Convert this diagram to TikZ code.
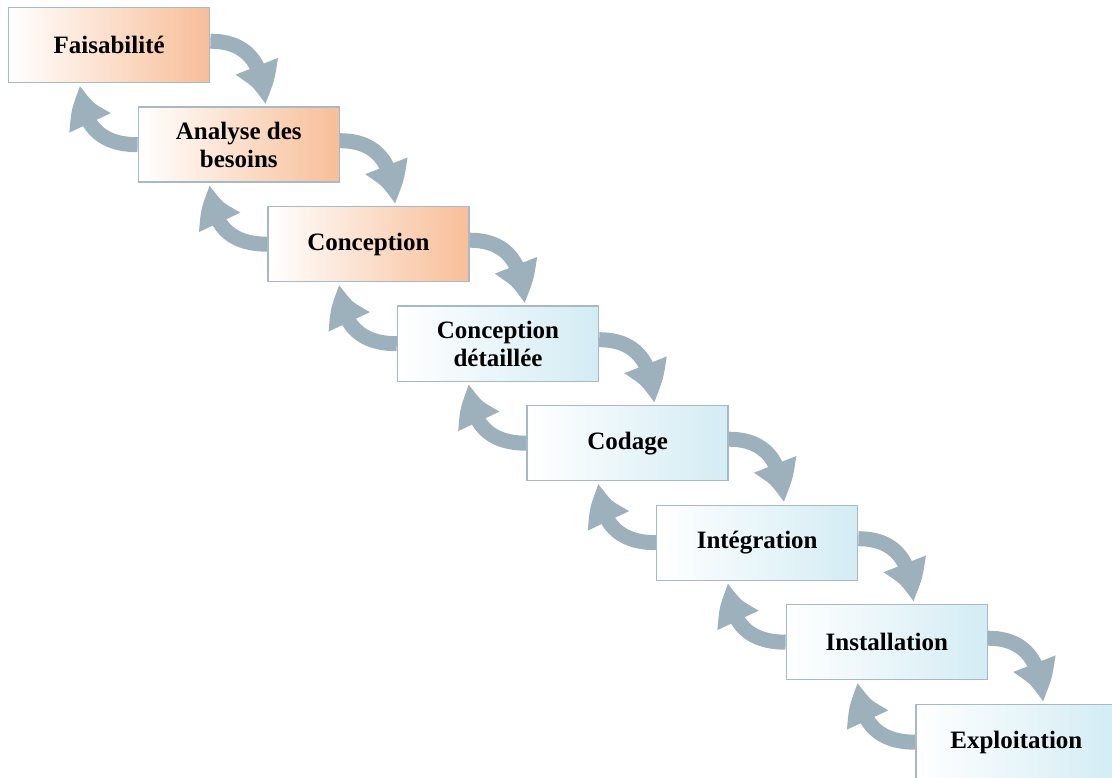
\documentclass[tikz,border=0pt]{standalone}
\usepackage{fontspec}
\setmainfont{Liberation Serif}
\usetikzlibrary{arrows.meta,bending,calc,backgrounds}
\definecolor{orangeR}{HTML}{F8BE98}
\definecolor{blueR}{HTML}{D3ECF4}
\definecolor{edgeC}{HTML}{A6B9C5}
\definecolor{arrowC}{HTML}{9DB1BC}
\begin{document}
\begin{tikzpicture}[x=1pt,y=-1pt,
  phase/.style={draw=edgeC, line width=1.4pt, minimum width=201pt, minimum height=75pt,
    anchor=north west, align=center, inner sep=0pt, left color=white,
    font=\bfseries\fontsize{25}{28}\selectfont},
  warm/.style={phase, right color=orangeR},
  cool/.style={phase, right color=blueR},
  loop/.style={draw=arrowC, line width=15pt, -{Triangle[length=44pt,width=40pt,bend]}},
]
\clip (0,0) rectangle (1112,778);
\useasboundingbox (0,0) rectangle (1112,778);
\node[warm] (b1) at (8,7) {Faisabilité};
\node[warm] (b2) at (137.6,106.5) {Analyse des\\besoins};
\node[warm] (b3) at (267.2,206) {Conception};
\node[cool] (b4) at (396.8,305.5) {Conception\\détaillée};
\node[cool] (b5) at (526.4,405) {Codage};
\node[cool] (b6) at (656,504.5) {Intégration};
\node[cool] (b7) at (785.6,604) {Installation};
\node[cool] (b8) at (915.2,704) {Exploitation};
\begin{scope}[on background layer]
\foreach \a/\b in {b1/b2,b2/b3,b3/b4,b4/b5,b5/b6,b6/b7,b7/b8}{
  \draw[loop] ($(\a.east)+(0,-4)$) .. controls +(38,0) and +(0,-40) .. ($(\b.north west)+(127,-1)$);
  \draw[loop] (\b.west) .. controls +(-40,0) and +(0,38) .. ($(\a.south west)+(73,1)$);
}
\end{scope}
\end{tikzpicture}
\end{document}
